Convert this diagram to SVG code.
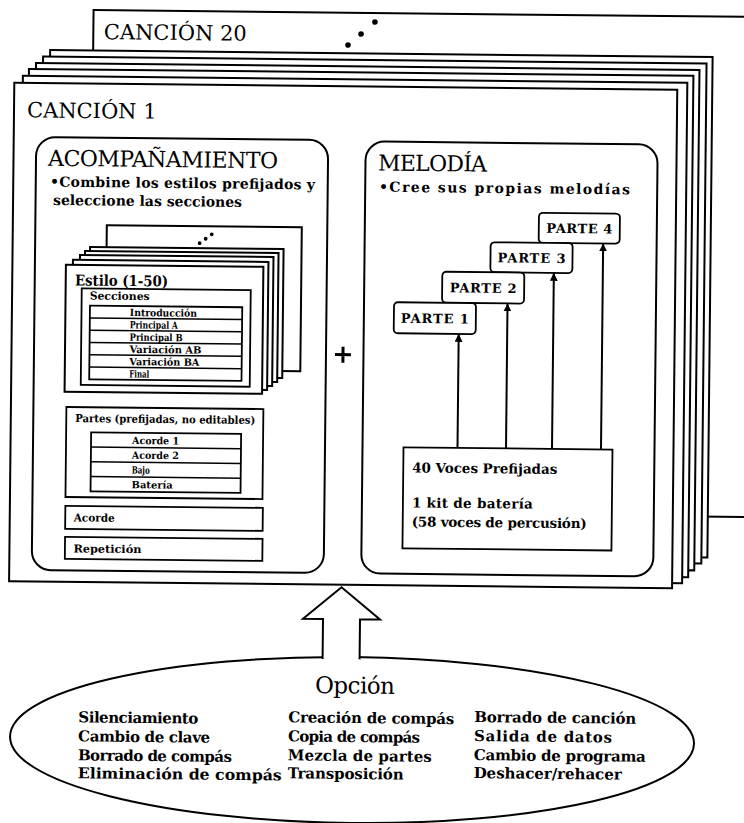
<svg xmlns="http://www.w3.org/2000/svg" width="744" height="823" viewBox="0 0 744 823">
<style>
.pg{fill:#fff;stroke:#000;stroke-width:2}
.bx{fill:#fff;stroke:#000;stroke-width:1.8}
.ln{fill:none;stroke:#000;stroke-width:1.5}
.t{font-family:"DejaVu Serif","Liberation Serif",serif;fill:#000}
.b{font-weight:bold}
.h{font-size:22px}
.s{font-size:14px;font-weight:bold}
.r{font-size:10px;font-weight:bold}
.o{font-size:15px;font-weight:bold}
.ar{stroke:#000;stroke-width:2;fill:none;marker-end:url(#ah)}
</style>
<defs>
<marker id="ah" viewBox="0 0 10 10" refX="10" refY="5" markerWidth="8" markerHeight="8" markerUnits="userSpaceOnUse" orient="auto">
<path d="M0,0 L10,5 L0,10 Z" fill="#000"/>
</marker>
</defs>
<rect width="744" height="823" fill="#fff"/>
<g transform="rotate(0.6 372 400)">
<g id="cancion20">
<rect class="pg" x="89.5" y="13" width="720" height="500"/>
<text class="t" x="100" y="42" font-size="21">CANCIÓN 20</text>
<circle cx="344.3" cy="45.3" r="2.8"/>
<circle cx="357.2" cy="34.1" r="2.8"/>
<circle cx="371" cy="22" r="2.8"/>
</g>
<g id="cancion-stack">
<rect class="pg" x="46.5" y="53.5" width="662.5" height="500.5"/>
<rect class="pg" x="39.5" y="60" width="663.5" height="500"/>
<rect class="pg" x="32.5" y="66.5" width="663.5" height="500.5"/>
<rect class="pg" x="25.5" y="72.5" width="664.5" height="501.5"/>
<rect class="pg" x="19.5" y="79.5" width="664.5" height="500.5"/>
</g>
<g id="cancion1">
<rect class="pg" x="11" y="86.5" width="663" height="498.5"/>
<text class="t" x="24" y="121" font-size="21">CANCIÓN 1</text>
</g>
<g id="acompanamiento">
<rect class="pg" x="33.5" y="140.5" width="292" height="433" rx="19"/>
<text class="t h" x="45.6" y="169.2" textLength="230">ACOMPAÑAMIENTO</text>
<text class="t s" x="47.8" y="190" textLength="265">•Combine los estilos prefijados y</text>
<text class="t s" x="51" y="208.3" textLength="189">seleccione las secciones</text>
</g>
<g id="estilo">
<rect class="pg" x="105" y="228" width="195" height="144"/>
<circle cx="198" cy="245" r="1.9"/>
<circle cx="204" cy="240.5" r="1.9"/>
<circle cx="210" cy="236" r="1.9"/>
<rect class="pg" x="88.5" y="250" width="193.5" height="129"/>
<rect class="pg" x="83.5" y="254" width="193.5" height="129"/>
<rect class="pg" x="78.5" y="258" width="193.5" height="129"/>
<rect class="pg" x="71.5" y="263" width="195.5" height="128"/>
<rect class="pg" x="64.5" y="268" width="197.5" height="127"/>
<text class="t b" x="73.8" y="288.6" font-size="15" textLength="93" lengthAdjust="spacingAndGlyphs">Estilo (1-50)</text>
<rect class="bx" x="80.6" y="291.5" width="169" height="96.5"/>
<text class="t b" x="88.6" y="302.5" font-size="11" textLength="60" lengthAdjust="spacingAndGlyphs">Secciones</text>
<rect class="bx" x="89" y="308.6" width="152.3" height="73.7"/>
<path class="ln" d="M89 320.9H241.3M89 333.2H241.3M89 345.4H241.3M89 357.7H241.3M89 370H241.3"/>
<text class="t r" x="129" y="318.6" textLength="67" lengthAdjust="spacingAndGlyphs">Introducción</text>
<text class="t r" x="129" y="330.9" textLength="48" lengthAdjust="spacingAndGlyphs">Principal A</text>
<text class="t r" x="129" y="343.2" textLength="53" lengthAdjust="spacingAndGlyphs">Principal B</text>
<text class="t r" x="129" y="355.4" textLength="72" lengthAdjust="spacingAndGlyphs">Variación AB</text>
<text class="t r" x="129" y="367.7" textLength="70" lengthAdjust="spacingAndGlyphs">Variación BA</text>
<text class="t r" x="129" y="380" textLength="20" lengthAdjust="spacingAndGlyphs">Final</text>
</g>
<g id="partes">
<rect class="bx" x="66.5" y="410.2" width="197" height="90"/>
<text class="t b" x="75.5" y="425.2" font-size="11" textLength="180" lengthAdjust="spacingAndGlyphs">Partes (prefijadas, no editables)</text>
<rect class="bx" x="91.5" y="435.3" width="150" height="59"/>
<path class="ln" d="M91.5 450H241.5M91.5 464.8H241.5M91.5 479.5H241.5"/>
<text class="t r" x="132.5" y="446.5" textLength="47" lengthAdjust="spacingAndGlyphs">Acorde 1</text>
<text class="t r" x="132.5" y="461.2" textLength="47" lengthAdjust="spacingAndGlyphs">Acorde 2</text>
<text class="t r" x="132.5" y="476" textLength="18" lengthAdjust="spacingAndGlyphs">Bajo</text>
<text class="t r" x="132.5" y="490.7" textLength="41" lengthAdjust="spacingAndGlyphs">Batería</text>
</g>
<g id="acorde">
<rect class="bx" x="66.5" y="509" width="197.5" height="23"/>
<text class="t b" x="75" y="524.5" font-size="11" textLength="41" lengthAdjust="spacingAndGlyphs">Acorde</text>
</g>
<g id="repeticion">
<rect class="bx" x="66.5" y="540" width="197.5" height="22"/>
<text class="t b" x="75" y="555.5" font-size="11" textLength="68" lengthAdjust="spacingAndGlyphs">Repetición</text>
</g>
<g id="plus">
<path d="M334.5 355H350.5M342.5 347V363" stroke="#000" stroke-width="3" fill="none"/>
</g>
<g id="melodia">
<rect class="pg" x="363" y="141.5" width="292" height="432" rx="19"/>
<text class="t h" x="375.6" y="170.4" textLength="109">MELODÍA</text>
<text class="t s" x="376.8" y="191.7" textLength="251">•Cree sus propias melodías</text>
</g>
<g id="parte4">
<rect class="bx" x="537" y="211" width="81" height="30" rx="4"/>
<text class="t b" x="577.5" y="231" font-size="13" text-anchor="middle" textLength="66">PARTE 4</text>
</g>
<g id="parte3">
<rect class="bx" x="489" y="241" width="82" height="30" rx="4"/>
<text class="t b" x="530" y="261" font-size="13" text-anchor="middle" textLength="68">PARTE 3</text>
</g>
<g id="parte2">
<rect class="bx" x="441" y="271" width="82" height="31" rx="4"/>
<text class="t b" x="482" y="291.5" font-size="13" text-anchor="middle" textLength="67">PARTE 2</text>
</g>
<g id="parte1">
<rect class="bx" x="393" y="302" width="82" height="31" rx="4"/>
<text class="t b" x="434" y="322.5" font-size="13" text-anchor="middle" textLength="68">PARTE 1</text>
</g>
<g id="voces">
<rect class="bx" x="404" y="447" width="209" height="101"/>
<text class="t b" x="413" y="472" font-size="13.5" textLength="145" lengthAdjust="spacingAndGlyphs">40 Voces Prefijadas</text>
<text class="t b" x="413" y="507" font-size="13.5" textLength="121">1 kit de batería</text>
<text class="t b" x="413" y="526" font-size="13.5" textLength="175">(58 voces de percusión)</text>
</g>
<g id="opcion">
<ellipse class="pg" cx="355.6" cy="740.2" rx="342" ry="83"/>
<text class="t" x="358" y="693.6" font-size="23" text-anchor="middle" textLength="80">Opción</text>
<text class="t o" x="81.7" y="725.4" textLength="120">Silenciamiento</text>
<text class="t o" x="81.7" y="744.4" textLength="132">Cambio de clave</text>
<text class="t o" x="81.7" y="763.4" textLength="154">Borrado de compás</text>
<text class="t o" x="81.7" y="781.4" textLength="204" lengthAdjust="spacingAndGlyphs">Eliminación de compás</text>
<text class="t o" x="291.6" y="723.2" textLength="166">Creación de compás</text>
<text class="t o" x="291.6" y="742.2" textLength="132">Copia de compás</text>
<text class="t o" x="291.6" y="761.2" textLength="144">Mezcla de partes</text>
<text class="t o" x="291.6" y="779.2" textLength="116">Transposición</text>
<text class="t o" x="477.6" y="721" textLength="162">Borrado de canción</text>
<text class="t o" x="477.6" y="740" textLength="138">Salida de datos</text>
<text class="t o" x="477.6" y="759" textLength="172">Cambio de programa</text>
<text class="t o" x="477.6" y="777" textLength="148">Deshacer/rehacer</text>
</g>
<g id="connectors">
<line class="ar" x1="458" y1="447" x2="458" y2="333"/>
<line class="ar" x1="506.5" y1="447" x2="506.5" y2="302"/>
<line class="ar" x1="552.5" y1="447" x2="552.5" y2="271"/>
<line class="ar" x1="601.5" y1="447" x2="601.5" y2="241"/>
<path d="M325.3 659.5V619.5H305.3L343.5 587.5L382.3 619.5H362.3V659.5" fill="#fff" stroke="#000" stroke-width="2"/>
</g>
</g>
</svg>
